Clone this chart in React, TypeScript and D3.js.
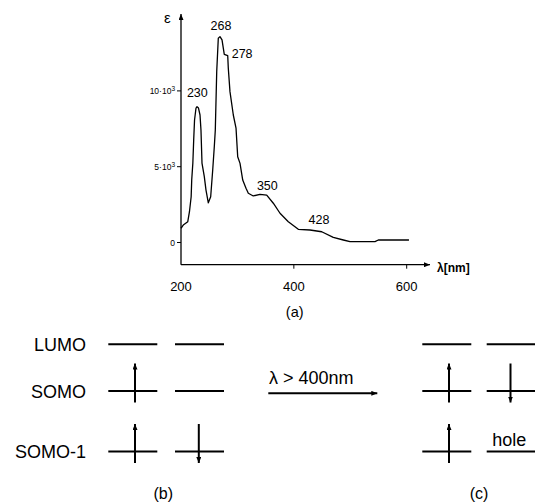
import React, { useEffect, useRef } from 'react';
import * as d3 from 'd3';

// absorption spectrum
const wavelength = [200, 204, 212, 215, 218, 219, 221, 222.5, 224, 226.6, 228.4, 231, 233.7, 235.4, 237.2, 241.3, 244.3, 248.4, 252.6, 256.2, 259, 260.8, 263.3, 266.1, 269.1, 272.7, 276.7, 282.8, 283.8, 286.8, 292.7, 297.5, 300.5, 304.6, 309.4, 315.2, 319.3, 328.1, 340, 351.9, 363.6, 375.5, 390.2, 407.9, 428.6, 449.4, 469.9, 487.7, 499.5, 543.8, 549.7, 604];
const epsilon = [940, 1150, 1370, 2030, 3020, 4120, 5240, 6760, 8080, 8870, 8960, 8870, 8410, 7420, 5240, 4340, 3460, 2620, 3020, 4780, 6320, 7420, 11270, 13470, 13580, 13360, 12410, 12320, 11510, 9950, 8410, 7550, 5660, 5220, 4120, 3580, 3250, 3070, 3180, 3130, 2590, 1930, 1370, 870, 825, 710, 340, 165, 55, 55, 165, 165];

const xTicks = [200, 400, 600];
const yTicks = [0, 5000, 10000];
const yTickLabels = [['0', ''], ['5·10', '3'], ['10·10', '3']];

const peakNames = ['230', '268', '278', '350', '428'];
const peakLambda = [228.9, 270.9, 289.9, 353, 444.6];
const peakEps = [9600, 14020, 12170, 3460, 1220];
const peakAnchor = ['middle', 'middle', 'start', 'middle', 'middle'];

// energy level diagrams
const levels = ['LUMO', 'SOMO', 'SOMO-1'];
const spinsB = [['', ''], ['up', ''], ['up', 'down']];
const spinsC = [['', ''], ['up', 'down'], ['up', 'hole']];

export default function App() {
  const svgRef = useRef<SVGSVGElement>(null);

  useEffect(() => {
    const svg = d3.select(svgRef.current);
    svg.selectAll('*').remove();
    const font = 'Arial, "Liberation Sans", sans-serif';

    const x = d3.scaleLinear().domain([200, 600]).range([181, 406.7]);
    const y = d3.scaleLinear().domain([0, 10000]).range([242.5, 90.9]);
    const axisY = 264.7;

    const defs = svg.append('defs');
    defs.append('marker')
      .attr('id', 'head')
      .attr('viewBox', '0 0 10 10')
      .attr('refX', 10).attr('refY', 5)
      .attr('markerWidth', 6).attr('markerHeight', 5)
      .attr('markerUnits', 'userSpaceOnUse')
      .attr('orient', 'auto')
      .attr('preserveAspectRatio', 'none')
      .append('path').attr('d', 'M0,0L10,5L0,10z').attr('fill', '#000');

    const g = svg.append('g').attr('font-family', font);

    // axes
    g.append('line')
      .attr('x1', x(200)).attr('x2', x(200))
      .attr('y1', axisY).attr('y2', 14)
      .attr('stroke', '#000').attr('stroke-width', 1.3)
      .attr('marker-end', 'url(#head)');
    g.append('line')
      .attr('x1', x(200)).attr('x2', 430)
      .attr('y1', axisY).attr('y2', axisY)
      .attr('stroke', '#000').attr('stroke-width', 1.3)
      .attr('marker-end', 'url(#head)');

    g.append('text').attr('x', 164).attr('y', 22.5).attr('font-size', 15).text('ε');
    g.append('text').attr('x', 437).attr('y', 272).attr('font-size', 12).attr('font-weight', 'bold').text('λ[nm]');

    yTicks.forEach((t, i) => {
      g.append('line')
        .attr('x1', x(200) - 4).attr('x2', x(200))
        .attr('y1', y(t)).attr('y2', y(t))
        .attr('stroke', '#000').attr('stroke-width', 1);
      const tx = g.append('text')
        .attr('x', x(200) - 6).attr('y', y(t) + 3)
        .attr('font-size', 8.5).attr('text-anchor', 'end');
      tx.append('tspan').text(yTickLabels[i][0]);
      if (yTickLabels[i][1]) tx.append('tspan').attr('dy', -3).attr('font-size', 6.5).text(yTickLabels[i][1]);
    });

    xTicks.forEach(t => {
      if (t !== 200) {
        g.append('line')
          .attr('x1', x(t)).attr('x2', x(t))
          .attr('y1', axisY).attr('y2', axisY + 4)
          .attr('stroke', '#000').attr('stroke-width', 1);
      }
      g.append('text')
        .attr('x', x(t)).attr('y', 290.5)
        .attr('font-size', 13).attr('text-anchor', 'middle')
        .text(t);
    });

    // spectrum
    const line = d3.line<number>()
      .x((d, i) => x(wavelength[i]))
      .y(d => y(d));
    g.append('path')
      .datum(epsilon)
      .attr('fill', 'none')
      .attr('stroke', '#000')
      .attr('stroke-width', 1.3)
      .attr('stroke-linejoin', 'round')
      .attr('d', line);

    peakNames.forEach((p, i) => {
      g.append('text')
        .attr('x', x(peakLambda[i])).attr('y', y(peakEps[i]))
        .attr('font-size', 12.5).attr('text-anchor', peakAnchor[i])
        .text(p);
    });

    g.append('text').attr('x', 294.7).attr('y', 316.5).attr('font-size', 14.5).attr('text-anchor', 'middle').text('(a)');

    // level diagrams
    const ly = d3.scaleOrdinal<string, number>().domain(levels).range([344.3, 391, 451.5]);

    levels.forEach(l => {
      g.append('text')
        .attr('x', 86).attr('y', ly(l) + 6.5)
        .attr('font-size', 18).attr('text-anchor', 'end')
        .text(l);
    });

    const drawDiagram = (spins: string[][], cols: number[]) => {
      levels.forEach((l, li) => {
        cols.forEach((cx, ci) => {
          const yy = ly(l);
          g.append('line')
            .attr('x1', cx).attr('x2', cx + 49)
            .attr('y1', yy).attr('y2', yy)
            .attr('stroke', '#000').attr('stroke-width', 2);
          const s = spins[li][ci];
          const ax = ci === 0 ? cx + 26.7 : cx + 23.8;
          if (s === 'up') {
            g.append('line')
              .attr('x1', ax).attr('x2', ax)
              .attr('y1', yy + 11.5).attr('y2', yy - 27.5)
              .attr('stroke', '#000').attr('stroke-width', 2)
              .attr('marker-end', 'url(#head)');
          } else if (s === 'down') {
            g.append('line')
              .attr('x1', ax).attr('x2', ax)
              .attr('y1', yy - 27.5).attr('y2', yy + 11.5)
              .attr('stroke', '#000').attr('stroke-width', 2)
              .attr('marker-end', 'url(#head)');
          } else if (s === 'hole') {
            g.append('text')
              .attr('x', cx + 5.6).attr('y', yy - 5.5)
              .attr('font-size', 18)
              .text('hole');
          }
        });
      });
    };
    drawDiagram(spinsB, [108.3, 175]);
    drawDiagram(spinsC, [422.3, 486.7]);

    g.append('line')
      .attr('x1', 268.3).attr('x2', 377.3)
      .attr('y1', 393.3).attr('y2', 393.3)
      .attr('stroke', '#000').attr('stroke-width', 2)
      .attr('marker-end', 'url(#head)');
    g.append('text').attr('x', 269).attr('y', 384).attr('font-size', 18).text('λ > 400nm');

    g.append('text').attr('x', 163.3).attr('y', 498.5).attr('font-size', 16).attr('text-anchor', 'middle').text('(b)');
    g.append('text').attr('x', 479).attr('y', 498.5).attr('font-size', 16).attr('text-anchor', 'middle').text('(c)');
  }, []);

  return (
    <svg ref={svgRef} width={535} height={502}
      style={{ position: 'absolute', left: 0, top: 0, background: '#fff' }}></svg>
  );
}
